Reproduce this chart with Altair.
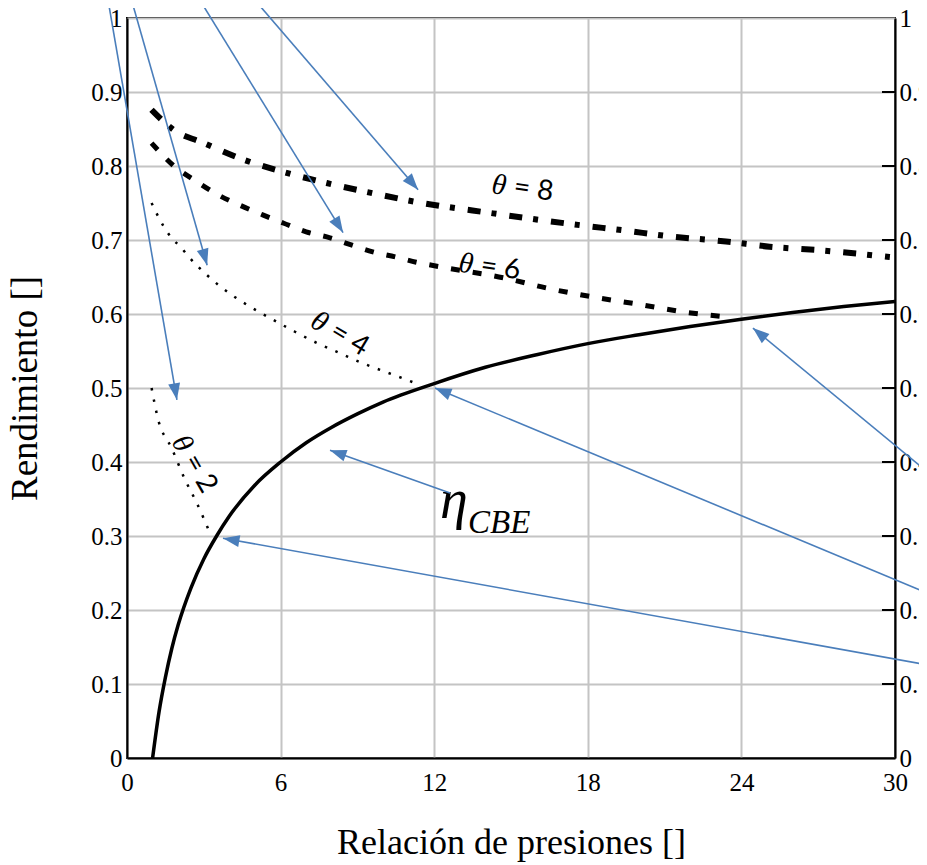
import math
import altair as alt
import pandas as pd

# ---------------- data ----------------
x_ticks = [0, 6, 12, 18, 24, 30]
y_ticks = [0, 0.1, 0.2, 0.3, 0.4, 0.5, 0.6, 0.7, 0.8, 0.9, 1]
y_inner_ticks = [0.1, 0.2, 0.3, 0.4, 0.5, 0.6, 0.7, 0.8, 0.9]

# eta_CBE (solid)
r_cbe = [1, 1.25, 1.5, 1.75, 2, 2.5, 3, 3.5, 4, 5, 6, 7, 8, 9, 10, 12, 14, 16,
         18, 20, 22, 24, 26, 28, 30]
eta_cbe = [0, 0.062, 0.109, 0.148, 0.180, 0.230, 0.269, 0.300, 0.327, 0.369,
           0.400, 0.426, 0.447, 0.465, 0.481, 0.506, 0.528, 0.545, 0.560,
           0.572, 0.583, 0.593, 0.602, 0.610, 0.617]

# theta = 8 (dash-dot)
r_t8 = [0.96, 1.94, 2.85, 4.6, 6.1, 7.8, 9.36, 11.2, 14.3, 17.7, 19.4, 21.2,
        23.4, 25.1, 27.1, 29.8]
eta_t8 = [0.876, 0.846, 0.833, 0.808, 0.792, 0.777, 0.765, 0.752, 0.736, 0.720,
          0.713, 0.705, 0.698, 0.691, 0.686, 0.677]

# theta = 6 (dashed)
r_t6 = [0.96, 1.8, 2.72, 3.56, 4.41, 5.3, 6.1, 7.0, 7.93, 8.7, 9.6, 10.5, 11.3,
        12.2, 14.7, 16.4, 18.2, 20.0, 21.7, 23.4]
eta_t6 = [0.831, 0.801, 0.779, 0.761, 0.747, 0.734, 0.723, 0.711, 0.703, 0.694,
          0.684, 0.677, 0.670, 0.664, 0.649, 0.635, 0.623, 0.613, 0.603, 0.596]

# theta = 4 (dotted)
r_t4 = [0.96, 1.42, 1.71, 2.11, 2.42, 3.11, 4.0, 4.8, 5.72, 6.56, 7.41, 8.32,
        9.17, 10.08, 10.93, 11.45]
eta_t4 = [0.750, 0.719, 0.704, 0.690, 0.677, 0.653, 0.628, 0.610, 0.592, 0.576,
          0.561, 0.547, 0.534, 0.522, 0.511, 0.504]

# theta = 2 (dotted)
r_t2 = [0.96, 1.22, 1.74, 2.27, 2.72, 3.24]
eta_t2 = [0.500, 0.457, 0.419, 0.376, 0.345, 0.304]

# theta labels
lbl_sym = ["θ", "θ", "θ", "θ"]
lbl_val = ["= 8", "= 6", "= 4", "= 2"]
lbl_x = [14.96, 13.67, 7.89, 2.38]
lbl_y = [0.772, 0.666, 0.582, 0.412]
lbl_ang = [8, 8, 31, 60]

# eta_CBE label
eta_lbl_x = [12.23]
eta_lbl_y = [0.324]
sub_lbl_x = [13.32]
sub_lbl_y = [0.304]

# annotation arrows (tail -> tip), in data units
arr_tail_x = [-0.74, 0.18, 2.85, 5.0, 31.25, 31.25, 31.25, 12.62]
arr_tail_y = [1.024, 1.024, 1.024, 1.024, 0.387, 0.223, 0.126, 0.358]
arr_tip_x = [1.95, 3.13, 8.44, 11.37, 24.45, 12.03, 3.75, 7.93]
arr_tip_y = [0.484, 0.666, 0.710, 0.768, 0.581, 0.500, 0.297, 0.416]

# ---------------- layout / style ----------------
W, H = 768, 740
FONT = "Liberation Serif"
BLUE = "#4a7ebb"
GRID = "#c4c4c4"

xs = alt.Scale(domain=[0, 30], nice=False, zero=False)
ys = alt.Scale(domain=[0, 1], nice=False, zero=False)

x_axis = alt.Axis(values=x_ticks, title="Relación de presiones []",
                  orient="bottom", grid=True,
                  gridColor=GRID, gridWidth=2, ticks=False, domain=True,
                  domainColor="black", domainWidth=2, labelFont=FONT,
                  labelFontSize=25, labelColor="black", labelPadding=12,
                  labelFlush=False, labelOverlap=False, format="~g",
                  titleFont=FONT, titleFontSize=36, titleFontWeight="normal",
                  titleColor="black", titlePadding=30)
y_axis = alt.Axis(values=y_ticks, title="Rendimiento []", orient="left",
                  grid=True,
                  gridColor=GRID, gridWidth=2, ticks=False, domain=True,
                  domainColor="black", domainWidth=2, labelFont=FONT,
                  labelFontSize=25, labelColor="black", labelPadding=5,
                  labelFlush=False, labelOverlap=False, format="~g",
                  titleFont=FONT, titleFontSize=37, titleFontWeight="normal",
                  titleColor="black", titleX=-102, titleY=H / 2, titleAngle=270,
                  titleAlign="center", titleBaseline="middle")
y_axis_r = alt.Axis(values=y_ticks, orient="right", title=None, grid=False,
                    ticks=False, domain=True, domainColor="black", domainWidth=2,
                    labelFont=FONT, labelFontSize=25, labelColor="black",
                    labelPadding=4, labelFlush=False, labelOverlap=False,
                    format="~g")


# every layer carries the same bottom axis, so the shared axis merges cleanly
def X(field):
    return alt.X(field, type="quantitative", scale=xs, axis=x_axis)


def Y(field, axis=None):
    return alt.Y(field, type="quantitative", scale=ys, axis=axis)


df_cbe = pd.DataFrame({"r": r_cbe, "eta": eta_cbe})
df_t8 = pd.DataFrame({"r": r_t8, "eta": eta_t8})
df_t6 = pd.DataFrame({"r": r_t6, "eta": eta_t6})
df_t4 = pd.DataFrame({"r": r_t4, "eta": eta_t4})
df_t2 = pd.DataFrame({"r": r_t2, "eta": eta_t2})

cbe = alt.Chart(df_cbe).mark_line(color="black", strokeWidth=3.5,
                                  interpolate="monotone").encode(
    x=X("r"), y=Y("eta", y_axis))

right_ticks = alt.Chart(pd.DataFrame({"t": y_inner_ticks})).mark_rule(
    color="black", strokeWidth=2).encode(
    y=Y("t", y_axis_r), x=alt.value(W - 13), x2=alt.value(W))

t8 = alt.Chart(df_t8).mark_line(color="black", strokeWidth=6,
                                strokeDash=[13, 11, 5, 13],
                                interpolate="monotone").encode(
    x=X("r"), y=Y("eta"))
t6 = alt.Chart(df_t6).mark_line(color="black", strokeWidth=5,
                                strokeDash=[9, 13],
                                interpolate="monotone").encode(
    x=X("r"), y=Y("eta"))
t4 = alt.Chart(df_t4).mark_line(color="black", strokeWidth=2.5,
                                strokeDash=[2.5, 9],
                                interpolate="monotone").encode(
    x=X("r"), y=Y("eta"))
t2 = alt.Chart(df_t2).mark_line(color="black", strokeWidth=2.5,
                                strokeDash=[2.5, 9],
                                interpolate="monotone").encode(
    x=X("r"), y=Y("eta"))

df_lbl = pd.DataFrame({"x": lbl_x, "y": lbl_y, "sym": lbl_sym,
                       "val": lbl_val, "ang": lbl_ang})
lbl_sym_layer = alt.Chart(df_lbl).mark_text(
    font=FONT, fontSize=29, fontStyle="italic", align="right",
    baseline="middle", dx=-4, color="black").encode(
    x=X("x"), y=Y("y"), text="sym:N", angle=alt.Angle("ang:Q", scale=None))
lbl_val_layer = alt.Chart(df_lbl).mark_text(
    font="Lato", fontSize=28, align="left", baseline="middle", dx=4,
    color="black").encode(
    x=X("x"), y=Y("y"), text="val:N", angle=alt.Angle("ang:Q", scale=None))

eta_layer = alt.Chart(pd.DataFrame({"x": eta_lbl_x, "y": eta_lbl_y,
                                    "t": ["η"]})).mark_text(
    font=FONT, fontSize=56, fontStyle="italic", align="left",
    baseline="alphabetic", color="black").encode(
    x=X("x"), y=Y("y"), text="t:N")
sub_layer = alt.Chart(pd.DataFrame({"x": sub_lbl_x, "y": sub_lbl_y,
                                    "t": ["CBE"]})).mark_text(
    font=FONT, fontSize=33, fontStyle="italic", align="left",
    baseline="alphabetic", color="black").encode(
    x=X("x"), y=Y("y"), text="t:N")

# arrows
angles = []
for tx, ty, hx, hy in zip(arr_tail_x, arr_tail_y, arr_tip_x, arr_tip_y):
    dxp = (hx - tx) * W / 30.0
    dyp = -(hy - ty) * H / 1.0
    angles.append(math.degrees(math.atan2(dxp, -dyp)) % 360)

df_arr = pd.DataFrame({"x0": arr_tail_x, "y0": arr_tail_y,
                       "x1": arr_tip_x, "y1": arr_tip_y, "ang": angles})
arr_lines = alt.Chart(df_arr).mark_rule(color=BLUE, strokeWidth=1.6).encode(
    x=X("x0"), y=Y("y0"), x2=alt.X2("x1"), y2=alt.Y2("y1"))
ARROW = "M0,0L0.8,2.2L-0.8,2.2Z"
arr_heads = alt.Chart(df_arr).mark_point(
    shape=ARROW, filled=True, size=225, color=BLUE, opacity=1,
    strokeWidth=0).encode(
    x=X("x1"), y=Y("y1"), angle=alt.Angle("ang:Q", scale=None))

chart = alt.layer(
    cbe, right_ticks, t8, t6, t4, t2, lbl_sym_layer, lbl_val_layer,
    eta_layer, sub_layer, arr_lines, arr_heads
).resolve_axis(y="independent").properties(
    width=W, height=H,
    padding={"left": 119, "top": 10, "right": 24, "bottom": 105},
    autosize=alt.AutoSizeParams(type="none"),
    background="white",
).configure_view(stroke="black", strokeWidth=2)

chart.save("out.html", embed_options={"renderer": "svg", "actions": False})
